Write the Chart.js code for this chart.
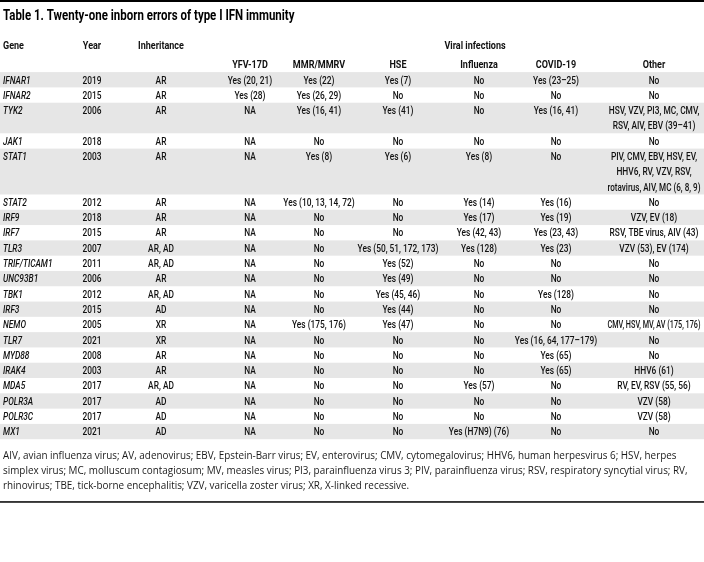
<!DOCTYPE html>
<html>
<head>
<meta charset="utf-8">
<script src="https://cdn.jsdelivr.net/npm/chart.js@4.4.1/dist/chart.umd.min.js"></script>
<style>
    html, body { margin: 0; padding: 0; background: #fff; }
    #wrap { width: 704px; height: 562px; position: relative; }
</style>
</head>
<body>
<div id="wrap"><canvas id="table-chart"></canvas></div>
<script>
const titleText = 'Table 1. Twenty-one inborn errors of type I IFN immunity';
const groupHeader = 'Viral infections';
const columns = ['Gene', 'Year', 'Inheritance', 'YFV-17D', 'MMR/MMRV', 'HSE', 'Influenza', 'COVID-19', 'Other'];

const genes = ['IFNAR1', 'IFNAR2', 'TYK2', 'JAK1', 'STAT1', 'STAT2', 'IRF9', 'IRF7', 'TLR3', 'TRIF/TICAM1',
    'UNC93B1', 'TBK1', 'IRF3', 'NEMO', 'TLR7', 'MYD88', 'IRAK4', 'MDA5', 'POLR3A', 'POLR3C', 'MX1'];
const years = ['2019', '2015', '2006', '2018', '2003', '2012', '2018', '2015', '2007', '2011',
    '2006', '2012', '2015', '2005', '2021', '2008', '2003', '2017', '2017', '2017', '2021'];
const inheritance = ['AR', 'AR', 'AR', 'AR', 'AR', 'AR', 'AR', 'AR', 'AR, AD', 'AR, AD',
    'AR', 'AR, AD', 'AD', 'XR', 'XR', 'AR', 'AR', 'AR, AD', 'AD', 'AD', 'AD'];
const yfv = ['Yes (20, 21)', 'Yes (28)', 'NA', 'NA', 'NA', 'NA', 'NA', 'NA', 'NA', 'NA',
    'NA', 'NA', 'NA', 'NA', 'NA', 'NA', 'NA', 'NA', 'NA', 'NA', 'NA'];
const mmr = ['Yes (22)', 'Yes (26, 29)', 'Yes (16, 41)', 'No', 'Yes (8)', 'Yes (10, 13, 14, 72)', 'No', 'No', 'No', 'No',
    'No', 'No', 'No', 'Yes (175, 176)', 'No', 'No', 'No', 'No', 'No', 'No', 'No'];
const hse = ['Yes (7)', 'No', 'Yes (41)', 'No', 'Yes (6)', 'No', 'No', 'No', 'Yes (50, 51, 172, 173)', 'Yes (52)',
    'Yes (49)', 'Yes (45, 46)', 'Yes (44)', 'Yes (47)', 'No', 'No', 'No', 'No', 'No', 'No', 'No'];
const influenza = ['No', 'No', 'No', 'No', 'Yes (8)', 'Yes (14)', 'Yes (17)', 'Yes (42, 43)', 'Yes (128)', 'No',
    'No', 'No', 'No', 'No', 'No', 'No', 'No', 'Yes (57)', 'No', 'No', 'Yes (H7N9) (76)'];
const covid = ['Yes (23–25)', 'No', 'Yes (16, 41)', 'No', 'No', 'Yes (16)', 'Yes (19)', 'Yes (23, 43)', 'Yes (23)', 'No',
    'No', 'Yes (128)', 'No', 'No', 'Yes (16, 64, 177–179)', 'Yes (65)', 'Yes (65)', 'No', 'No', 'No', 'No'];
const other = ['No', 'No', ['HSV, VZV, PI3, MC, CMV,', 'RSV, AIV, EBV (39–41)'], 'No',
    ['PIV, CMV, EBV, HSV, EV,', 'HHV6, RV, VZV, RSV,', 'rotavirus, AIV, MC (6, 8, 9)'],
    'No', 'VZV, EV (18)', 'RSV, TBE virus, AIV (43)', 'VZV (53), EV (174)', 'No',
    'No', 'No', 'No', 'CMV, HSV, MV, AV (175, 176)', 'No', 'No', 'HHV6 (61)', 'RV, EV, RSV (55, 56)',
    'VZV (58)', 'VZV (58)', 'No'];

const footnote = [
    'AIV, avian influenza virus; AV, adenovirus; EBV, Epstein-Barr virus; EV, enterovirus; CMV, cytomegalovirus; HHV6, human herpesvirus 6; HSV, herpes',
    'simplex virus; MC, molluscum contagiosum; MV, measles virus; PI3, parainfluenza virus 3; PIV, parainfluenza virus; RSV, respiratory syncytial virus; RV,',
    'rhinovirus; TBE, tick-borne encephalitis; VZV, varicella zoster virus; XR, X-linked recessive.'
];

// layout only: column anchors on the x scale (Gene is left aligned) and max text widths
const colPos = [0, 89, 158, 247, 316, 395, 476, 553, 651];
const colMaxW = [75, 40, 50, 60, 75, 86, 72, 88, 93];
const groupPos = 472;
const face = 'Roboto, "DejaVu Sans Condensed", sans-serif';
const squeeze = 0.76;
const headSqueeze = 0.82;

const tableCols = [genes, years, inheritance, yfv, mmr, hse, influenza, covid, other];
const rowLines = genes.map((g, i) =>
    Math.max(...tableCols.map(col => Array.isArray(col[i]) ? col[i].length : 1)));
const totalLines = rowLines.reduce((a, b) => a + b, 0);

// condensed text: the reference face is narrow, so squeeze horizontally
function drawText(ctx, text, px, py, align, sx, maxW) {
    if (maxW) {
        sx = Math.min(sx, maxW / ctx.measureText(text).width);
    }
    ctx.save();
    ctx.translate(px, py);
    ctx.scale(sx, 1);
    ctx.textAlign = align;
    ctx.fillText(text, 0, 0);
    ctx.restore();
}

const tablePlugin = {
    id: 'tableCells',
    beforeDatasetsDraw(chart) {
        const {ctx, chartArea, scales: {x, y}} = chart;
        const W = chart.width;
        const dy = 1;
        ctx.save();

        // rules
        ctx.fillStyle = '#000';
        ctx.fillRect(0, 0, W, 2);
        ctx.fillRect(0, chartArea.bottom + 62, W, 1.5);

        // shaded bands
        let start = 0;
        rowLines.forEach((n, i) => {
            if (i % 2 === 0) {
                ctx.fillStyle = '#e6e6e6';
                const top = y.getPixelForValue(start);
                ctx.fillRect(0, top, W, y.getPixelForValue(start + n) - top);
            }
            start += n;
        });

        ctx.textBaseline = 'middle';
        ctx.fillStyle = '#000';

        // title
        ctx.font = 'bold 14px ' + face;
        drawText(ctx, titleText, x.getPixelForValue(0), chartArea.top - 19, 'left', 0.82);

        ctx.fillStyle = '#111';
        // headers
        ctx.font = 'bold 11px ' + face;
        const h1 = y.getPixelForValue(-1.74) + dy;
        drawText(ctx, columns[0], x.getPixelForValue(colPos[0]), h1, 'left', headSqueeze);
        drawText(ctx, columns[1], x.getPixelForValue(colPos[1]), h1, 'center', headSqueeze);
        drawText(ctx, columns[2], x.getPixelForValue(colPos[2]), h1, 'center', headSqueeze);
        drawText(ctx, groupHeader, x.getPixelForValue(groupPos), h1, 'center', headSqueeze);
        for (let c = 3; c < columns.length; c++) {
            drawText(ctx, columns[c], x.getPixelForValue(colPos[c]), y.getPixelForValue(-0.5) + dy, 'center', headSqueeze);
        }

        // body cells
        start = 0;
        rowLines.forEach((n, i) => {
            tableCols.forEach((col, c) => {
                const lines = Array.isArray(col[i]) ? col[i] : [col[i]];
                ctx.font = (c === 0 ? 'italic ' : '') + '500 11px ' + face;
                lines.forEach((t, k) => {
                    drawText(ctx, t, x.getPixelForValue(colPos[c]), y.getPixelForValue(start + k + 0.5) + dy,
                        c === 0 ? 'left' : 'center', squeeze, colMaxW[c]);
                });
            });
            start += n;
        });
        ctx.restore();
    }
};

new Chart(document.getElementById('table-chart'), {
    type: 'scatter',
    data: {datasets: []},
    options: {
        responsive: true,
        maintainAspectRatio: false,
        animation: false,
        devicePixelRatio: 1,
        layout: {padding: {left: 3, right: 0, top: 35.4, bottom: 68.65}},
        plugins: {
            legend: {display: false},
            tooltip: {enabled: false},
            title: {display: false},
            subtitle: {
                display: true,
                position: 'bottom',
                text: footnote,
                align: 'start',
                color: '#1a1a1a',
                font: {family: '"Open Sans", sans-serif', size: 9.9, lineHeight: 1.52},
                padding: {top: 9, bottom: 0}
            }
        },
        scales: {
            x: {type: 'linear', min: 0, max: 701, display: false},
            y: {type: 'linear', min: -2.4, max: totalLines, reverse: true, display: false}
        }
    },
    plugins: [tablePlugin]
});
</script>
</body>
</html>
